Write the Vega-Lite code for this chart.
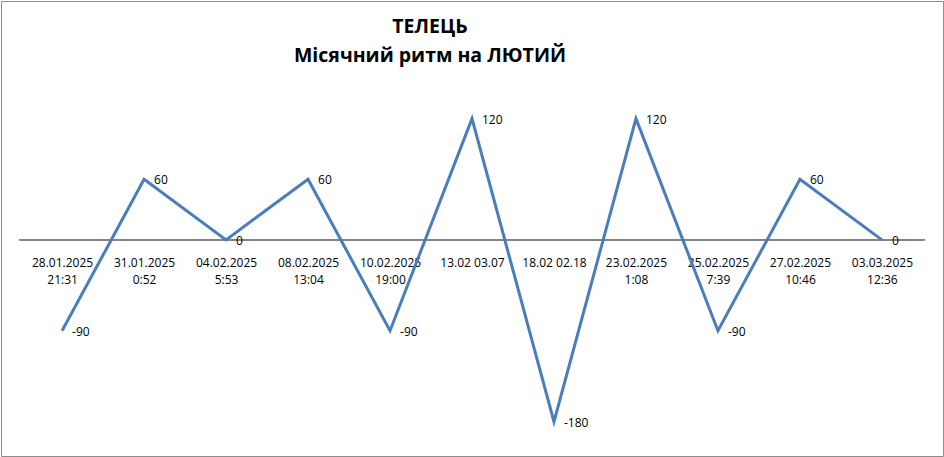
{
  "$schema": "https://vega.github.io/schema/vega-lite/v6.json",
  "width": 942,
  "height": 455,
  "autosize": {"type": "none"},
  "padding": 1,
  "background": "white",
  "config": {"view": {"stroke": "#8c8c8c", "strokeWidth": 1}, "font": "Open Sans"},
  "title": {
    "text": ["ТЕЛЕЦЬ", "Місячний ритм на ЛЮТИЙ"],
    "fontSize": 19.5,
    "fontWeight": "bold",
    "font": "Open Sans",
    "color": "#000000",
    "lineHeight": 29,
    "offset": -65,
    "anchor": "middle",
    "dx": -42
  },
  "data": {
    "values": [
      {"label": "28.01.2025|21:31", "value": -90},
      {"label": "31.01.2025|0:52", "value": 60},
      {"label": "04.02.2025|5:53", "value": 0},
      {"label": "08.02.2025|13:04", "value": 60},
      {"label": "10.02.2025|19:00", "value": -90},
      {"label": "13.02 03.07", "value": 120},
      {"label": "18.02 02.18", "value": -180},
      {"label": "23.02.2025|1:08", "value": 120},
      {"label": "25.02.2025|7:39", "value": -90},
      {"label": "27.02.2025|10:46", "value": 60},
      {"label": "03.03.2025|12:36", "value": 0}
    ]
  },
  "layer": [
    {
      "mark": {"type": "rule", "color": "#868686", "strokeWidth": 1},
      "encoding": {
        "x": {"datum": 0, "type": "quantitative", "scale": {"domain": [-0.0206, 1.0206], "nice": false, "zero": false}, "axis": null},
        "x2": {"datum": 1},
        "y": {"datum": 0, "type": "quantitative", "scale": {"domain": [-214, 236.5], "nice": false, "zero": false}, "axis": null}
      }
    },
    {
      "mark": {"type": "line", "color": "#4a7ebb", "strokeWidth": 3},
      "encoding": {
        "x": {
          "field": "label", "type": "ordinal", "sort": null,
          "scale": {"type": "point", "padding": 0.745},
          "axis": {
            "title": null, "domain": false, "ticks": false, "labelAngle": 0,
            "labelExpr": "split(datum.label, '|')",
            "labelFont": "Open Sans", "labelFontSize": 12, "labelColor": "#000000",
            "labelLineHeight": 17, "labelPadding": 17, "labelBaseline": "top",
            "labelOverlap": false, "labelLimit": 0, "offset": -216
          }
        },
        "y": {"field": "value", "type": "quantitative", "scale": {"domain": [-214, 236.5], "nice": false, "zero": false}, "axis": null}
      }
    },
    {
      "mark": {"type": "text", "align": "left", "baseline": "middle", "dx": 10, "dy": 1, "fontSize": 12, "font": "Open Sans", "color": "#000000"},
      "encoding": {
        "x": {"field": "label", "type": "ordinal", "sort": null, "scale": {"type": "point", "padding": 0.745}, "axis": null},
        "y": {"field": "value", "type": "quantitative", "scale": {"domain": [-214, 236.5], "nice": false, "zero": false}, "axis": null},
        "text": {"field": "value", "type": "nominal"}
      }
    }
  ],
  "resolve": {"scale": {"x": "independent"}}
}
